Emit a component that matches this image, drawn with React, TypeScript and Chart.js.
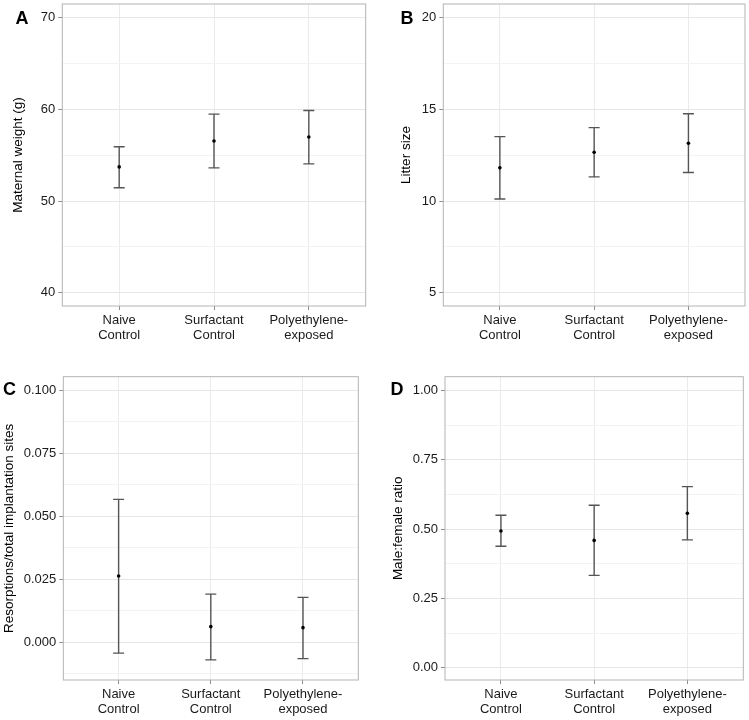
import React, { useEffect, useRef } from 'react';
import { Chart, registerables } from 'chart.js';

Chart.register(...registerables);

// ---- data ----
const categories = [
  ['Naive', 'Control'],
  ['Surfactant', 'Control'],
  ['Polyethylene-', 'exposed'],
];

const weightMean = [53.73, 56.55, 56.98];
const weightLower = [51.45, 53.62, 54.06];
const weightUpper = [55.93, 59.48, 59.88];

const litterMean = [11.81, 12.66, 13.15];
const litterLower = [10.11, 11.32, 11.56];
const litterUpper = [13.51, 14.0, 14.76];

const resorpMean = [0.0262, 0.0061, 0.0057];
const resorpLower = [-0.0044, -0.0071, -0.0066];
const resorpUpper = [0.0566, 0.019, 0.0177];

const ratioMean = [0.493, 0.459, 0.557];
const ratioLower = [0.438, 0.333, 0.461];
const ratioUpper = [0.55, 0.586, 0.653];

const weightTicks = [40, 50, 60, 70];
const weightTickLabels = ['40', '50', '60', '70'];
const litterTicks = [5, 10, 15, 20];
const litterTickLabels = ['5', '10', '15', '20'];
const resorpTicks = [0, 0.025, 0.05, 0.075, 0.1];
const resorpTickLabels = ['0.000', '0.025', '0.050', '0.075', '0.100'];
const ratioTicks = [0, 0.25, 0.5, 0.75, 1];
const ratioTickLabels = ['0.00', '0.25', '0.50', '0.75', '1.00'];

const FONT = '"Liberation Sans", Arial, Helvetica, sans-serif';

type Panel = {
  label: string;
  title: string;
  mean: number[];
  lower: number[];
  upper: number[];
  ticks: number[];
  tickLabels: string[];
  min: number;
  max: number;
  left: number;
  top: number;
  width: number;
  height: number;
  area: { left: number; top: number; right: number; bottom: number };
  labelPos: { x: number; y: number };
  titlePad: number;
};

const panels: Panel[] = [
  {
    label: 'A', title: 'Maternal weight (g)',
    mean: weightMean, lower: weightLower, upper: weightUpper,
    ticks: weightTicks, tickLabels: weightTickLabels, min: 38.56, max: 71.49,
    left: 0, top: 0, width: 375, height: 370,
    area: { left: 62.3, top: 2.3, right: 365.7, bottom: 306 },
    labelPos: { x: 15.5, y: 23.5 }, titlePad: 10.2,
  },
  {
    label: 'B', title: 'Litter size',
    mean: litterMean, lower: litterLower, upper: litterUpper,
    ticks: litterTicks, tickLabels: litterTickLabels, min: 4.28, max: 20.74,
    left: 375, top: 0, width: 374, height: 370,
    area: { left: 68.3, top: 2.3, right: 371, bottom: 306 },
    labelPos: { x: 25.5, y: 23.5 }, titlePad: 23.4,
  },
  {
    label: 'C', title: 'Resorptions/total implantation sites',
    mean: resorpMean, lower: resorpLower, upper: resorpUpper,
    ticks: resorpTicks, tickLabels: resorpTickLabels, min: -0.01508, max: 0.1053,
    left: 0, top: 370, width: 375, height: 350,
    area: { left: 63.3, top: 6.7, right: 358.3, bottom: 310 },
    labelPos: { x: 3, y: 25.3 }, titlePad: 1,
  },
  {
    label: 'D', title: 'Male:female ratio',
    mean: ratioMean, lower: ratioLower, upper: ratioUpper,
    ticks: ratioTicks, tickLabels: ratioTickLabels, min: -0.0444, max: 1.0494,
    left: 375, top: 370, width: 374, height: 350,
    area: { left: 70, top: 6.7, right: 368.3, bottom: 310 },
    labelPos: { x: 15.5, y: 25.3 }, titlePad: 15.6,
  },
];

function allTicks(major: number[], min: number, max: number): number[] {
  const step = major[1] - major[0];
  const out: number[] = [];
  const start = major[0] - step;
  const end = major[major.length - 1] + step;
  for (let k = 0; start + (k * step) / 2 <= end + 1e-9; k++) {
    const v = start + (k * step) / 2;
    if (v >= min - 1e-9 && v <= max + 1e-9) out.push(v);
  }
  return out;
}

function majorIndex(major: number[], v: number): number {
  return major.findIndex((t) => Math.abs(t - v) < 1e-9);
}

function PanelChart({ p }: { p: Panel }) {
  const ref = useRef<HTMLCanvasElement | null>(null);
  useEffect(() => {
    if (!ref.current) return;
    const tickVals = allTicks(p.ticks, p.min, p.max);

    const errorBars = {
      id: 'errorBars' + p.label,
      beforeDatasetsDraw(chart: any) {
        const ctx = chart.ctx;
        const xs = chart.scales.x;
        const ys = chart.scales.y;
        ctx.save();
        ctx.strokeStyle = '#555555';
        ctx.lineWidth = 1.4;
        const half = 5.5;
        p.mean.forEach((_, i) => {
          const x = xs.getPixelForValue(i);
          const yl = ys.getPixelForValue(p.lower[i]);
          const yu = ys.getPixelForValue(p.upper[i]);
          ctx.beginPath();
          ctx.moveTo(x, yl);
          ctx.lineTo(x, yu);
          ctx.moveTo(x - half, yl);
          ctx.lineTo(x + half, yl);
          ctx.moveTo(x - half, yu);
          ctx.lineTo(x + half, yu);
          ctx.stroke();
        });
        ctx.restore();
      },
      afterDraw(chart: any) {
        const ctx = chart.ctx;
        const a = chart.chartArea;
        ctx.save();
        ctx.strokeStyle = '#b3b3b3';
        ctx.lineWidth = 1;
        ctx.strokeRect(a.left, a.top, a.right - a.left, a.bottom - a.top);
        ctx.fillStyle = '#000';
        ctx.font = 'bold 18px ' + FONT;
        ctx.textBaseline = 'alphabetic';
        ctx.textAlign = 'left';
        ctx.fillText(p.label, p.labelPos.x, p.labelPos.y);
        ctx.restore();
      },
    };

    const chart = new Chart(ref.current, {
      type: 'scatter',
      data: {
        datasets: [
          {
            data: p.mean.map((v, i) => ({ x: i, y: v })),
            pointRadius: 1.8,
            pointBackgroundColor: '#000',
            pointBorderWidth: 0,
            showLine: false,
          },
        ],
      },
      options: {
        animation: false,
        responsive: false,
        maintainAspectRatio: false,
        layout: {
          padding: { left: 0, top: p.area.top, right: p.width - p.area.right, bottom: 0 },
        },
        plugins: { legend: { display: false }, tooltip: { enabled: false } },
        scales: {
          x: {
            type: 'linear',
            min: -0.6,
            max: 2.6,
            bounds: 'data',
            afterBuildTicks: (ax: any) => {
              ax.ticks = categories.map((_, i) => ({ value: i }));
            },
            afterFit: (ax: any) => {
              ax.height = p.height - p.area.bottom;
              ax.paddingLeft = 0;
              ax.paddingRight = 0;
              ax.paddingTop = 0;
              ax.paddingBottom = 0;
            },
            ticks: {
              autoSkip: false,
              maxRotation: 0,
              padding: 3,
              color: '#1a1a1a',
              font: { family: FONT, size: 13, lineHeight: 1.15 },
              callback: (v: any) => categories[Math.round(Number(v))],
            },
            grid: { color: '#ebebeb', lineWidth: 1, tickColor: '#8c8c8c', tickLength: 4 },
            border: { display: false },
          },
          y: {
            type: 'linear',
            min: p.min,
            max: p.max,
            bounds: 'data',
            afterBuildTicks: (ax: any) => {
              ax.ticks = tickVals.map((v) => ({ value: v }));
            },
            afterFit: (ax: any) => {
              ax.width = p.area.left;
              ax.paddingTop = 0;
              ax.paddingBottom = 0;
              ax.paddingLeft = 0;
              ax.paddingRight = 0;
            },
            ticks: {
              padding: 3,
              color: '#1a1a1a',
              font: { family: FONT, size: 13 },
              callback: (v: any) => {
                const k = majorIndex(p.ticks, Number(v));
                return k >= 0 ? p.tickLabels[k] : '';
              },
            },
            grid: {
              color: (c: any) => (majorIndex(p.ticks, c.tick.value) >= 0 ? '#e6e6e6' : '#f3f3f3'),
              tickColor: (c: any) => (majorIndex(p.ticks, c.tick.value) >= 0 ? '#8c8c8c' : 'rgba(0,0,0,0)'),
              tickLength: 4,
            },
            border: { display: false },
            title: {
              display: true,
              text: p.title,
              color: '#000',
              font: { family: FONT, size: 13.5 },
              padding: { top: p.titlePad, bottom: 0 },
            },
          },
        },
      },
      plugins: [errorBars],
    } as any);
    return () => chart.destroy();
  }, [p]);
  return (
    <canvas
      ref={ref}
      width={p.width}
      height={p.height}
      style={{ position: 'absolute', left: p.left, top: p.top, width: p.width, height: p.height }}
    />
  );
}

export default function App() {
  return (
    <div style={{ position: 'absolute', left: 0, top: 0, width: 749, height: 720, background: '#fff' }}>
      {panels.map((p) => (
        <PanelChart key={p.label} p={p} />
      ))}
    </div>
  );
}
